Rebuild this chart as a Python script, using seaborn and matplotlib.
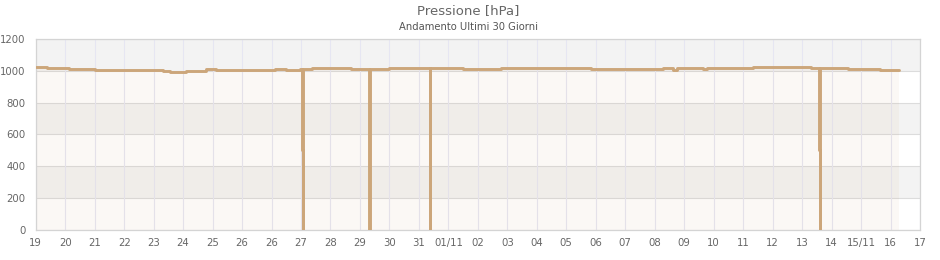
import matplotlib
matplotlib.use("Agg")
import matplotlib.pyplot as plt
import seaborn as sns
import pandas as pd

# ---- data (x in days from 19 Oct 00:00, axis units) ----
times = [0.00, 0.38, 1.13, 2.01, 4.32, 4.56, 5.11, 5.78, 6.12, 8.13, 8.50, 8.98,
         9.04, 9.055, 9.07, 9.38, 10.68, 11.30, 11.315, 11.33, 11.97,
         13.36, 13.375, 13.39, 14.48, 15.43, 15.77, 17.64, 18.83, 21.27, 21.61,
         21.75, 22.63, 22.77, 24.33, 24.70, 26.30, 26.59, 26.605, 26.62, 27.56,
         28.64, 29.29]
pressure = [1022, 1015, 1009, 1003, 999, 992, 1002, 1009, 1003, 1009, 1003, 1009,
            500, 0, 1009, 1015, 1009, 500, 0, 1009, 1015,
            500, 0, 1015, 1009, 1013, 1019, 1015, 1009, 1015, 1006,
            1015, 1009, 1015, 1023, 1021, 1017, 500, 0, 1015, 1009,
            1003, 1003]
tick_labels = ['19', '20', '21', '22', '23', '24', '25', '26', '26', '27', '28',
               '29', '30', '31', '01/11', '02', '03', '04', '05', '06', '07',
               '08', '09', '10', '11', '12', '13', '14', '15/11', '16', '17']
y_ticks = [0, 200, 400, 600, 800, 1000, 1200]
title = "Pressione [hPa]"
subtitle = "Andamento Ultimi 30 Giorni"

df = pd.DataFrame({"t": times, "p": pressure})

sns.set_theme(style="white")
plt.rcParams['font.family'] = ['DejaVu Sans']

line_color = "#cca67a"
text_color = "#666666"

fig = plt.figure(figsize=(9.4, 2.6), dpi=100)
ax = fig.add_axes([35.7 / 940, 30 / 260, (920 - 35.7) / 940, (230 - 39) / 260])
ax.set_facecolor("white")

# alternating bands
for lo in (200, 600, 1000):
    ax.axhspan(lo, lo + 200, color="#f3f3f3", lw=0, zorder=0)

# grids
for yv in y_ticks:
    ax.axhline(yv, color="#dcdcdc", lw=0.8, zorder=1)
for i in range(len(tick_labels)):
    ax.axvline(i, color="#e6e6f2", lw=0.8, zorder=1)

# area fill
ax.fill_between(df["t"], df["p"], 0, step="post", color=line_color,
                alpha=0.075, lw=0, zorder=2)

sns.lineplot(data=df, x="t", y="p", ax=ax, color=line_color, lw=2.1,
             drawstyle="steps-post", sort=False, estimator=None, zorder=3)

ax.set_xlim(0, len(tick_labels) - 1)
ax.set_ylim(0, 1200)
ax.set_xticks(range(len(tick_labels)))
ax.set_xticklabels(tick_labels)
ax.set_yticks(y_ticks)
ax.set_yticklabels([str(v) for v in y_ticks])
ax.tick_params(axis="both", length=0, labelsize=7.3, colors=text_color)
ax.tick_params(axis="y", pad=7.5)
ax.tick_params(axis="x", pad=6)
ax.set_xlabel("")
ax.set_ylabel("")
for s in ax.spines.values():
    s.set_color("#d4d4d4")
    s.set_linewidth(0.9)
    s.set_visible(True)

fig.text(0.4985, 1 - 11 / 260, title, ha="center", va="center",
         fontsize=9.5, color=text_color)
fig.text(0.4985, 1 - 27 / 260, subtitle, ha="center", va="center",
         fontsize=7.2, color="#555555")

fig.savefig("out.png", dpi=100, facecolor="white")
